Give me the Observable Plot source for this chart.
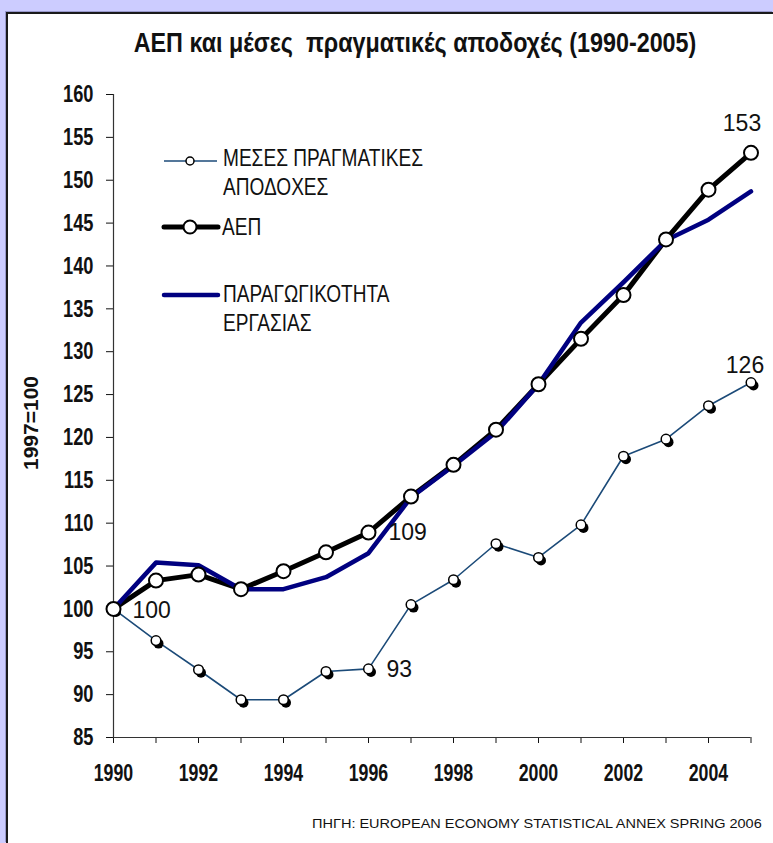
<!DOCTYPE html>
<html>
<head>
<meta charset="utf-8">
<script src="https://cdn.jsdelivr.net/npm/d3@7"></script>
<script src="https://cdn.jsdelivr.net/npm/@observablehq/plot@0.6"></script>
<style>
  html, body { margin: 0; padding: 0; }
  body { width: 773px; height: 843px; overflow: hidden; position: relative; background: #ccccff; font-family: "Liberation Sans", Arial, sans-serif; }
  #panel { position: absolute; left: 6px; top: 12px; width: 767px; height: 831px; background: #ffffff; border-left: 2px solid #1a1a1a; border-top: 2px solid #1a1a1a; box-sizing: border-box; box-shadow: -1px -1px 0 #9999cc; }
  #chart { position: absolute; left: 0; top: 0; }
</style>
</head>
<body>
<div id="panel"></div>
<div id="chart"></div>
<script>
// ---- Data (index 1997 = 100) ----
const years = [1990, 1991, 1992, 1993, 1994, 1995, 1996, 1997, 1998, 1999, 2000, 2001, 2002, 2003, 2004, 2005];
const wages = [100, 96.3, 92.9, 89.4, 89.4, 92.7, 93.0, 100.5, 103.4, 107.6, 106.0, 109.8, 117.8, 119.8, 123.7, 126.4];
const gdp = [100, 103.3, 104.0, 102.3, 104.4, 106.6, 108.9, 113.1, 116.8, 120.9, 126.2, 131.5, 136.6, 143.1, 148.9, 153.2];
const productivity = [100, 105.4, 105.1, 102.3, 102.3, 103.7, 106.5, 113.0, 116.7, 120.6, 126.2, 133.4, 138.1, 143.0, 145.4, 148.7];
const yTicks = [85, 90, 95, 100, 105, 110, 115, 120, 125, 130, 135, 140, 145, 150, 155, 160];
const seriesNames = ["ΜΕΣΕΣ ΠΡΑΓΜΑΤΙΚΕΣ\nΑΠΟΔΟΧΕΣ", "ΑΕΠ", "ΠΑΡΑΓΩΓΙΚΟΤΗΤΑ\nΕΡΓΑΣΙΑΣ"];
const titleText = "ΑΕΠ και μέσες  πραγματικές αποδοχές (1990-2005)";
const yLabelText = "1997=100";
const sourceText = "ΠΗΓΗ: EUROPEAN ECONOMY STATISTICAL ANNEX SPRING 2006";
// labelled points: [series, year]
const labelPoints = [["wages", 1990], ["wages", 1996], ["gdp", 1996], ["wages", 2005], ["gdp", 2005]];

// ---- Build tables ----
const table = (vals) => years.map((year, i) => ({year, value: vals[i]}));
const wageData = table(wages);
const gdpData = table(gdp);
const prodData = table(productivity);
const lookup = {wages: wageData, gdp: gdpData};
const labelData = labelPoints.map(([s, y]) => {
  const d = lookup[s].find(p => p.year === y);
  return {series: s, year: y, value: d.value, text: String(Math.round(d.value))};
});

const WAGE = "#1b4a78", NAVY = "#000080";
const FONT = "'Liberation Sans', Arial, Helvetica, sans-serif";

const chart = Plot.plot({
  width: 773,
  height: 843,
  marginLeft: 113,
  marginRight: 22.5,
  marginTop: 94,
  marginBottom: 106,
  x: {domain: [1990, 2005]},
  y: {domain: [85, 160]},
  style: {background: "transparent", fontFamily: FONT, overflow: "visible"},
  marks: [
    Plot.axisY(yTicks, {tickSize: 7, tickPadding: 13, fontSize: 24, fontWeight: "bold", color: "#111", label: null, tickFormat: d => String(d)}),
    Plot.axisX(years, {tickSize: 6, tickPadding: 20, fontSize: 24, fontWeight: "bold", color: "#111", label: null, tickFormat: d => d % 2 === 0 ? String(d) : ""}),
    Plot.ruleX([1990], {stroke: "#333", strokeWidth: 1.2}),
    Plot.ruleY([85], {stroke: "#333", strokeWidth: 1.2}),
    // wages
    Plot.line(wageData, {x: "year", y: "value", stroke: WAGE, strokeWidth: 1.6}),
    Plot.dot(wageData, {x: "year", y: "value", r: 5, fill: "black", dx: 2.5, dy: 3}),
    Plot.dot(wageData, {x: "year", y: "value", r: 4.8, fill: "white", stroke: "black", strokeWidth: 1.5}),
    // GDP line, productivity line, GDP markers
    Plot.line(gdpData, {x: "year", y: "value", stroke: "black", strokeWidth: 5, strokeLinejoin: "round"}),
    Plot.line(prodData, {x: "year", y: "value", stroke: NAVY, strokeWidth: 4.5, strokeLinejoin: "round"}),
    Plot.dot(gdpData, {x: "year", y: "value", r: 7, fill: "white", stroke: "black", strokeWidth: 2}),
    // value labels
    Plot.text(labelData.filter(d => d.year === 1990), {x: "year", y: "value", text: "text", textAnchor: "start", dx: 19, dy: 2, fontSize: 23, fill: "#111", ariaLabel: "value label"}),
    Plot.text(labelData.filter(d => d.year === 1996 && d.series === "wages"), {x: "year", y: "value", text: "text", textAnchor: "start", dx: 18, dy: 1, fontSize: 23, fill: "#111", ariaLabel: "value label"}),
    Plot.text(labelData.filter(d => d.year === 1996 && d.series === "gdp"), {x: "year", y: "value", text: "text", textAnchor: "start", dx: 20, dy: 0, fontSize: 23, fill: "#111", ariaLabel: "value label"}),
    Plot.text(labelData.filter(d => d.year === 2005 && d.series === "wages"), {x: "year", y: "value", text: "text", textAnchor: "middle", dx: -6, dy: -17, fontSize: 23, fill: "#111", ariaLabel: "value label"}),
    Plot.text(labelData.filter(d => d.year === 2005 && d.series === "gdp"), {x: "year", y: "value", text: "text", textAnchor: "middle", dx: -9, dy: -29, fontSize: 23, fill: "#111", ariaLabel: "value label"})
  ]
});

document.getElementById("chart").appendChild(chart);

const svg = d3.select(chart);
// condensed look of the original (horizontally squeezed text)
function squeeze(sel, s) {
  sel.each(function () {
    const t = this.getAttribute("transform") || "";
    this.setAttribute("transform", t + ` scale(${s},1)`);
  });
}
squeeze(svg.selectAll("g[aria-label='y-axis tick label'] text"), 0.76);
squeeze(svg.selectAll("g[aria-label='x-axis tick label'] text"), 0.74);
squeeze(svg.selectAll("g[aria-label='value label'] text"), 0.8);

// fit a text to a target width by horizontal scaling
function fitText(node, x, y, width) {
  const len = node.getComputedTextLength() || width;
  node.setAttribute("transform", `translate(${x},${y}) scale(${(width / len).toFixed(4)},1)`);
}

// Title
const title = svg.append("text")
  .attr("text-anchor", "middle")
  .attr("font-size", 28).attr("font-weight", "bold")
  .attr("font-family", FONT).attr("fill", "#111")
  .style("white-space", "pre")
  .text(titleText);
fitText(title.node(), 415, 52, 563);

// Y label
svg.append("text")
  .attr("transform", "translate(38,470) rotate(-90)")
  .attr("text-anchor", "start")
  .attr("font-size", 21).attr("font-weight", "bold")
  .attr("font-family", FONT).attr("fill", "#111")
  .text(yLabelText);

// Source
const source = svg.append("text")
  .attr("text-anchor", "start")
  .attr("font-size", 12.5)
  .attr("font-family", FONT).attr("fill", "#111")
  .text(sourceText);
fitText(source.node(), 312, 828, 450);

// Legend
const lg = svg.append("g").attr("font-family", FONT).attr("font-size", 23).attr("fill", "#111").attr("text-anchor", "start");
function legendText(lines, x, yCenter) {
  lines.split("\n").forEach((ln, i) => {
    lg.append("text")
      .attr("text-anchor", "start")
      .attr("transform", `translate(${x},${yCenter + 8 + i * 29}) scale(0.83,1)`)
      .text(ln);
  });
}
// item 1: wages
lg.append("line").attr("x1", 164).attr("x2", 217).attr("y1", 161).attr("y2", 161).attr("stroke", WAGE).attr("stroke-width", 1.6);
lg.append("circle").attr("cx", 190).attr("cy", 161).attr("r", 4).attr("fill", "white").attr("stroke", "black").attr("stroke-width", 1.5);
legendText(seriesNames[0], 223, 158);
// item 2: GDP
lg.append("line").attr("x1", 164).attr("x2", 218).attr("y1", 227).attr("y2", 227).attr("stroke", "black").attr("stroke-width", 5).attr("stroke-linecap", "round");
lg.append("circle").attr("cx", 190).attr("cy", 227).attr("r", 6.5).attr("fill", "white").attr("stroke", "black").attr("stroke-width", 2);
legendText(seriesNames[1], 222, 227);
// item 3: productivity
lg.append("line").attr("x1", 164).attr("x2", 218).attr("y1", 295).attr("y2", 295).attr("stroke", NAVY).attr("stroke-width", 4.5).attr("stroke-linecap", "round");
legendText(seriesNames[2], 223, 294);
</script>
</body>
</html>
